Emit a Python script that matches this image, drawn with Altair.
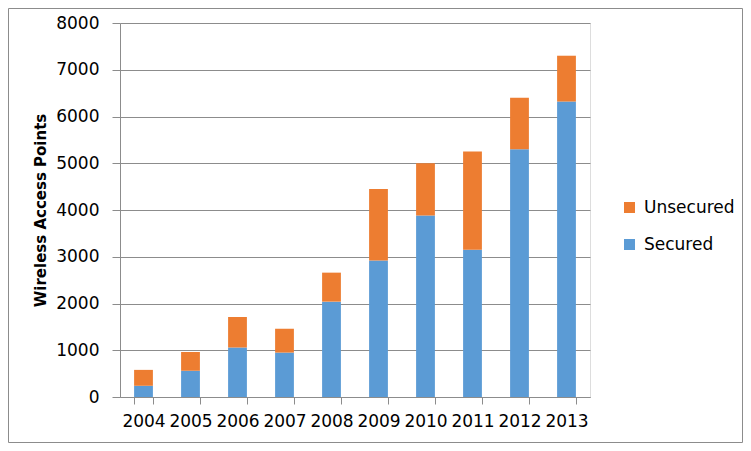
import altair as alt
import pandas as pd

years = ["2004", "2005", "2006", "2007", "2008", "2009", "2010", "2011", "2012", "2013"]
secured = [240, 560, 1060, 950, 2040, 2920, 3880, 3150, 5300, 6320]
unsecured = [340, 400, 650, 510, 620, 1530, 1120, 2100, 1100, 980]
series = ["Unsecured", "Secured"]
colors = ["#ED7D31", "#5B9BD5"]
y_ticks = [0, 1000, 2000, 3000, 4000, 5000, 6000, 7000, 8000]

rows = []
for y, s, u in zip(years, secured, unsecured):
    rows.append({"year": y, "series": "Secured", "value": s, "ord": 0})
    rows.append({"year": y, "series": "Unsecured", "value": u, "ord": 1})
df = pd.DataFrame(rows)

W, H = 470, 374
PL, PT, PR, PB = 112, 15, 153, 46
FONT = "DejaVu Sans"
GRAY = "#8C8C8C"

bars = alt.Chart(df).mark_bar().encode(
    x=alt.X("year:N", sort=years,
            scale=alt.Scale(paddingInner=0.6, paddingOuter=0.3),
            axis=alt.Axis(title=None, labelAngle=0, tickBand="extent", tickSize=7,
                          tickColor=GRAY, domainColor=GRAY, labelFont=FONT,
                          labelFontSize=17, labelColor="#000000", labelPadding=9,
                          grid=False)),
    y=alt.Y("value:Q", stack="zero",
            scale=alt.Scale(domain=[0, 8000], nice=False),
            axis=alt.Axis(title="Wireless Access Points", values=y_ticks, format="d",
                          tickSize=8, tickColor=GRAY, domainColor=GRAY, gridColor=GRAY,
                          labelFont=FONT, labelFontSize=17, labelColor="#000000",
                          labelPadding=13, titleFont=FONT, titleFontSize=15,
                          titleFontWeight="bold", titleColor="#000000",
                          titleX=-80, titleY=H / 2, titleAngle=-90,
                          titleAlign="center", titleBaseline="middle")),
    color=alt.Color("series:N", scale=alt.Scale(domain=series, range=colors),
                    legend=alt.Legend(title=None, orient="none", legendX=501, legendY=176,
                                      symbolType="square", symbolSize=121,
                                      symbolStrokeWidth=0, labelFont=FONT,
                                      labelFontSize=17, labelColor="#000000",
                                      rowPadding=19, labelOffset=6)),
    order=alt.Order("ord:Q"),
)

frame = alt.Chart(pd.DataFrame({"k": [0]})).mark_rect(
    filled=False, stroke=GRAY, strokeWidth=1
).encode(
    x=alt.value(-PL + 0.5), x2=alt.value(W + PR - 0.5),
    y=alt.value(-PT + 0.5), y2=alt.value(H + PB - 0.5),
)

chart = alt.layer(bars, frame).properties(
    width=W, height=H,
    padding={"left": PL, "top": PT, "right": PR, "bottom": PB},
    autosize=alt.AutoSizeParams(type="none"),
).configure_view(stroke=None).configure(background="white")

chart.save("out.html", embed_options={"renderer": "svg", "actions": False})
